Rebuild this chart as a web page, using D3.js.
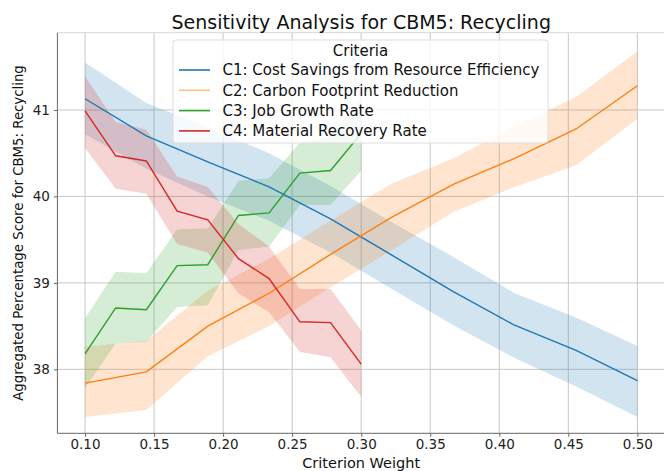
<!DOCTYPE html>
<html>
<head>
<meta charset="utf-8">
<script src="https://cdn.jsdelivr.net/npm/d3@7"></script>
<style>
  body { margin: 0; background: #fff; }
  svg { font-family: "DejaVu Sans", sans-serif; display: block; }
</style>
</head>
<body>
<svg width="664" height="471"></svg>
<script>
// weights for C1/C2 (0.1..0.5) and C3/C4 (0.1..0.3)
const weightsWide = [0.1, 0.1444, 0.1889, 0.2333, 0.2778, 0.3222, 0.3667, 0.4111, 0.4556, 0.5];
const weightsNarrow = [0.1, 0.1222, 0.1444, 0.1667, 0.1889, 0.2111, 0.2333, 0.2556, 0.2778, 0.3];

const c1Mean = [41.13, 40.70, 40.40, 40.11, 39.74, 39.32, 38.90, 38.51, 38.22, 37.87];
const c1Hi   = [41.55, 41.08, 40.80, 40.50, 40.12, 39.70, 39.30, 38.88, 38.60, 38.27];
const c1Lo   = [40.72, 40.32, 40.00, 39.72, 39.35, 38.93, 38.51, 38.13, 37.80, 37.45];

const c2Mean = [37.84, 37.97, 38.50, 38.88, 39.33, 39.76, 40.14, 40.44, 40.78, 41.28];
const c2Hi   = [38.26, 38.33, 38.91, 39.28, 39.72, 40.15, 40.44, 40.81, 41.15, 41.68];
const c2Lo   = [37.45, 37.53, 38.15, 38.50, 38.95, 39.38, 39.82, 40.11, 40.36, 40.90];

const c3Mean = [38.18, 38.71, 38.69, 39.20, 39.21, 39.78, 39.81, 40.27, 40.30, 40.73];
const c3Hi   = [38.59, 39.13, 39.11, 39.62, 39.63, 40.18, 40.21, 40.62, 40.70, 41.13];
const c3Lo   = [37.78, 38.30, 38.32, 38.72, 38.74, 39.38, 39.42, 39.90, 39.90, 40.30];

const c4Mean = [40.99, 40.47, 40.41, 39.83, 39.73, 39.28, 39.05, 38.55, 38.54, 38.06];
const c4Hi   = [41.39, 40.86, 40.77, 40.23, 40.11, 39.68, 39.42, 38.93, 38.93, 38.45];
const c4Lo   = [40.56, 40.09, 40.03, 39.45, 39.35, 38.88, 38.66, 38.20, 38.14, 37.68];

const criteriaNames = [
    "C1: Cost Savings from Resource Efficiency",
    "C2: Carbon Footprint Reduction",
    "C3: Job Growth Rate",
    "C4: Material Recovery Rate"
];
const xTicks = [0.10, 0.15, 0.20, 0.25, 0.30, 0.35, 0.40, 0.45, 0.50];
const yTicks = [38, 39, 40, 41];

const colors = ["#1f77b4", "#ff7f0e", "#2ca02c", "#d62728"];

const series = [
    { name: criteriaNames[0], xs: weightsWide, mean: c1Mean, hi: c1Hi, lo: c1Lo },
    { name: criteriaNames[1], xs: weightsWide, mean: c2Mean, hi: c2Hi, lo: c2Lo },
    { name: criteriaNames[2], xs: weightsNarrow, mean: c3Mean, hi: c3Hi, lo: c3Lo },
    { name: criteriaNames[3], xs: weightsNarrow, mean: c4Mean, hi: c4Hi, lo: c4Lo }
];

const plotLeft = 57.4, plotRight = 665, plotTop = 32.7, plotBottom = 433.3;

const svg = d3.select("svg");

const x = d3.scaleLinear().domain([0.08, 0.52]).range([plotLeft, plotRight]);
const y = d3.scaleLinear().domain([37.26, 41.894]).range([plotBottom, plotTop]);

// grid
svg.append("g")
    .selectAll("line")
    .data(xTicks)
    .enter()
    .append("line")
    .attr("x1", d => x(d)).attr("x2", d => x(d))
    .attr("y1", plotTop).attr("y2", plotBottom)
    .attr("stroke", "#c8c8c8").attr("stroke-width", 1);

svg.append("g")
    .selectAll("line")
    .data(yTicks)
    .enter()
    .append("line")
    .attr("x1", plotLeft).attr("x2", plotRight)
    .attr("y1", d => y(d)).attr("y2", d => y(d))
    .attr("stroke", "#c8c8c8").attr("stroke-width", 1);

// bands + lines
const area = d3.area()
    .x(d => x(d.x))
    .y0(d => y(d.lo))
    .y1(d => y(d.hi));

const line = d3.line()
    .x(d => x(d.x))
    .y(d => y(d.m));

series.forEach((s, i) => {
    const pts = s.xs.map((v, j) => ({ x: v, m: s.mean[j], lo: s.lo[j], hi: s.hi[j] }));
    svg.append("path")
        .attr("d", area(pts))
        .attr("fill", colors[i])
        .attr("fill-opacity", 0.2);
});

series.forEach((s, i) => {
    const pts = s.xs.map((v, j) => ({ x: v, m: s.mean[j] }));
    svg.append("path")
        .attr("d", line(pts))
        .attr("fill", "none")
        .attr("stroke", colors[i])
        .attr("stroke-width", 1.4);
});

// spines
svg.append("line").attr("x1", plotLeft).attr("x2", plotRight).attr("y1", plotTop).attr("y2", plotTop)
    .attr("stroke", "#d8d8d8").attr("stroke-width", 1);
svg.append("line").attr("x1", plotLeft).attr("x2", plotLeft).attr("y1", plotTop).attr("y2", plotBottom)
    .attr("stroke", "#666").attr("stroke-width", 1);
svg.append("line").attr("x1", plotLeft).attr("x2", plotRight).attr("y1", plotBottom).attr("y2", plotBottom)
    .attr("stroke", "#666").attr("stroke-width", 1);

// axes
const xAxis = svg.append("g")
    .attr("transform", `translate(0,${plotBottom})`)
    .call(d3.axisBottom(x).tickValues(xTicks).tickFormat(d3.format(".2f")).tickSize(3.5).tickPadding(3));
const yAxis = svg.append("g")
    .attr("transform", `translate(${plotLeft},0)`)
    .call(d3.axisLeft(y).tickValues(yTicks).tickFormat(d3.format("d")).tickSize(3.5).tickPadding(4));

[xAxis, yAxis].forEach(a => {
    a.select(".domain").remove();
    a.selectAll("line").attr("stroke", "#666");
    a.selectAll("text").attr("font-size", 13.5).attr("fill", "#222")
        .attr("font-family", "DejaVu Sans");
});

// labels
svg.append("text")
    .attr("x", (plotLeft + plotRight) / 2).attr("y", 29)
    .attr("text-anchor", "middle")
    .attr("font-size", 19).attr("fill", "#111")
    .text("Sensitivity Analysis for CBM5: Recycling");

svg.append("text")
    .attr("x", (plotLeft + plotRight) / 2).attr("y", 468)
    .attr("text-anchor", "middle")
    .attr("font-size", 14.5).attr("fill", "#111")
    .text("Criterion Weight");

svg.append("text")
    .attr("transform", `translate(23,${(plotTop + plotBottom) / 2}) rotate(-90)`)
    .attr("text-anchor", "middle")
    .attr("font-size", 13.3).attr("fill", "#111")
    .text("Aggregated Percentage Score for CBM5: Recycling");

// legend
const legend = svg.append("g").attr("transform", "translate(173,40)");
legend.append("rect")
    .attr("width", 375).attr("height", 103)
    .attr("rx", 3)
    .attr("fill", "#fff").attr("fill-opacity", 0.8)
    .attr("stroke", "#ddd");
legend.append("text")
    .attr("x", 187.5).attr("y", 16)
    .attr("text-anchor", "middle")
    .attr("font-size", 15).attr("fill", "#111")
    .text("Criteria");

const items = legend.selectAll(".legend-item")
    .data(criteriaNames)
    .enter()
    .append("g")
    .attr("class", "legend-item")
    .attr("transform", (d, i) => `translate(0,${30 + i * 20.3})`);

items.append("line")
    .attr("x1", 6).attr("x2", 37)
    .attr("stroke", (d, i) => colors[i])
    .attr("stroke-opacity", (d, i) => i === 1 ? 0.5 : 1)
    .attr("stroke-width", 1.6);

items.append("text")
    .attr("x", 49.5).attr("y", 5.3)
    .attr("font-size", 15).attr("fill", "#111")
    .text(d => d);
</script>
</body>
</html>
